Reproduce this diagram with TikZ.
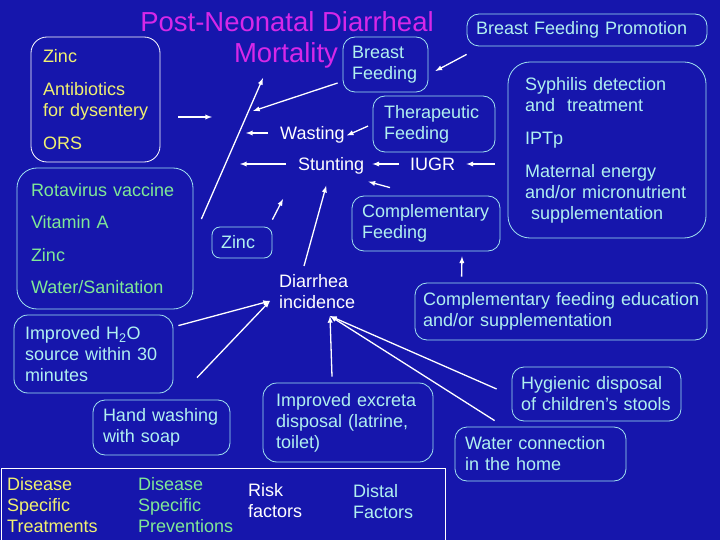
\documentclass[tikz,border=0pt]{standalone}
\usepackage{fontspec}
\setmainfont{Liberation Sans}
\usepackage{tikz}
\usetikzlibrary{arrows}
\definecolor{slide}{RGB}{22,22,172}
\definecolor{titlemag}{RGB}{214,40,232}
\definecolor{txtyellow}{RGB}{240,240,112}
\definecolor{txtgreen}{RGB}{128,232,150}
\definecolor{txtcyan}{RGB}{176,240,240}
\definecolor{edgecyan}{RGB}{160,226,240}
\hyphenpenalty=10000

\begin{document}
\begin{tikzpicture}[x=1pt, y=-1pt, font=\fontsize{18}{21}\selectfont,
    box/.style={draw=edgecyan, line width=0.8pt, rounded corners=12pt, align=left, inner sep=2pt, text=txtcyan},
    lbl/.style={text=white, inner sep=2pt, text height=13pt, text depth=4pt},
    arr/.style={-latex, draw=white, line width=1.3pt}]
            \useasboundingbox (0,0) rectangle (720,540);
            \fill[slide] (0,0) rectangle (720,540);

            \coordinate (trtend) at (212,117);
            \coordinate (mortend) at (263,78);
            \coordinate (bfend) at (253,111);
            \coordinate (wasteend) at (246,133);
            \coordinate (stuntend) at (240,164);
            \coordinate (zincend) at (283,199);
            \coordinate (diarin) at (270,301);
            \coordinate (diarbot) at (330,316);

            \node[text=titlemag, font=\fontsize{27.5}{32}\selectfont, anchor=base] (ttl) at (287,32) {Post-Neonatal Diarrheal};
            \node[text=titlemag, font=\fontsize{27.5}{32}\selectfont, anchor=base] (mort) at (286,63) {Mortality};

            \node[box, draw=white, text=txtyellow, rounded corners=16pt, minimum width=129pt, minimum height=125pt, text width=105pt] (trt) at (95.5,99.5)
               {Zinc\\[12pt]Antibiotics\\for~dysentery\\[12pt]ORS};
            \node[box, text=txtgreen, rounded corners=20pt, minimum width=176pt, minimum height=141pt, text width=148pt] (prev) at (105,238.5)
               {Rotavirus~vaccine\\[11.3pt]Vitamin~A\\[11.3pt]Zinc\\[11.3pt]Water/Sanitation};
            \node[box, minimum width=85pt, minimum height=55pt, text width=67pt] (bf) at (385.5,64.5) {Breast\\Feeding};
            \node[box, minimum width=240pt, minimum height=32pt, text width=222pt] (bfp) at (587,30) {Breast Feeding Promotion};
            \node[box, minimum width=122pt, minimum height=56pt, text width=100pt] (ther) at (434,124) {Therapeutic\\Feeding};
            \node[box, rounded corners=22pt, minimum width=198pt, minimum height=176pt, text width=164pt] (syph) at (607,150)
               {Syphilis~detection\\and~~treatment\\[12pt]IPTp\\[12pt]Maternal~energy\\and/or~micronutrient\\\hspace*{6pt}supplementation};
            \node[box, minimum width=148pt, minimum height=55pt, text width=128pt] (cf) at (426,223.5) {Complementary\\Feeding};
            \node[box, rounded corners=8pt, minimum width=60pt, minimum height=31pt, text width=42pt] (zinc) at (242,242.5) {Zinc};
            \node[box, minimum width=292pt, minimum height=57pt, text width=276pt] (cfe) at (561,311.5)
               {Complementary~feeding~education\\and/or~supplementation};
            \node[box, rounded corners=14pt, minimum width=159pt, minimum height=78pt, text width=137pt] (water) at (93.5,354)
               {Improved~H\textsubscript{2}O\\source~within~30\\minutes};
            \node[box, minimum width=137pt, minimum height=55pt, text width=117pt] (hand) at (161.5,427.5) {Hand~washing\\with~soap};
            \node[box, rounded corners=14pt, minimum width=170pt, minimum height=79pt, text width=144pt] (excr) at (348,422.5)
               {Improved~excreta\\disposal~(latrine,\\toilet)};
            \node[box, minimum width=169pt, minimum height=54pt, text width=151pt] (hyg) at (596.5,394) {Hygienic~disposal\\of~children’s~stools};
            \node[box, minimum width=171pt, minimum height=54pt, text width=151pt] (home) at (540.5,454) {Water~connection\\in~the~home};

            \node[lbl, anchor=west] (waste) at (278,135.5) {Wasting};
            \node[lbl, anchor=west] (stunt) at (296,166.5) {Stunting};
            \node[lbl, anchor=west] (iugr) at (408,166.5) {IUGR};
            \node[text=white, inner sep=2pt, align=left, anchor=north west] (diar) at (277,272) {Diarrhea\\incidence};

            \draw[arr, shorten <=18pt] (trt.east |- trtend) -- (trtend);
            \draw[arr] ([xshift=8pt,yshift=19.5pt]prev.east) -- (mortend);
            \draw[arr] ([xshift=-5pt,yshift=-18.5pt]bf.west) -- (bfend);
            \draw[arr] ([yshift=-8pt]bfp.south west) -- ([xshift=7pt,yshift=-6.5pt]bf.east);
            \draw[arr, shorten <=10pt] (waste.west |- wasteend) -- (wasteend);
            \draw[arr, shorten <=5pt] (ther.west) -- (waste.east);
            \draw[arr, shorten <=10pt] (stunt.west |- stuntend) -- (stuntend);
            \draw[arr, shorten <=9pt, shorten >=6pt] (iugr.west |- stuntend) -- (stunt.east |- stuntend);
            \draw[arr, shorten <=13pt, shorten >=9pt] (syph.west |- stuntend) -- (iugr.east |- stuntend);
            \draw[arr] ([xshift=-36pt,yshift=8pt]cf.north) -- ([xshift=2pt,yshift=-4.5pt]stunt.south east);
            \draw[arr] ([yshift=7pt]zinc.north east) -- (zincend);
            \draw[arr] ([xshift=27pt,yshift=6pt]diar.north west) -- ([xshift=-5pt,yshift=-8.5pt]stunt.south);
            \draw[arr] ([xshift=47pt,yshift=6pt]cfe.north west) -- ([xshift=36pt,yshift=-5pt]cf.south);
            \draw[arr] ([xshift=5pt,yshift=-11pt]water.north east) -- (diarin);
            \draw[arr] ([xshift=35.5pt,yshift=22pt]hand.north) -- (diarin);
            \draw[arr] ([xshift=-16pt,yshift=6pt]excr.north) -- (diarbot);
            \draw[arr] ([xshift=-15pt,yshift=5pt]hyg.west) -- (diarbot);
            \draw[arr] ([xshift=40pt,yshift=6pt]home.north west) -- (diarbot);

            \draw[white, line width=1pt] (1,468) rectangle (445,541);
            \node[text=txtyellow, inner sep=2pt, align=left, anchor=north west] (ltrt) at (5,475) {Disease\\Specific\\Treatments};
            \node[text=txtgreen, inner sep=2pt, align=left, anchor=north west] (lprev) at (136,475) {Disease\\Specific\\Preventions};
            \node[text=white, inner sep=2pt, align=left, anchor=north west] (lrisk) at (246,481) {Risk\\factors};
            \node[text=txtcyan, inner sep=2pt, align=left, anchor=north west] (ldist) at (351,482) {Distal\\Factors};
        \end{tikzpicture}
\end{document}
